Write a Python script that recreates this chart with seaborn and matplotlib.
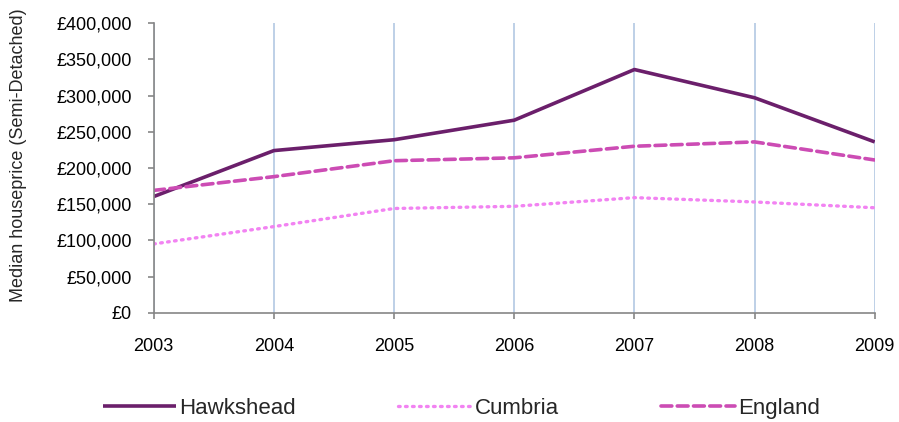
import numpy as np
import pandas as pd
import matplotlib
matplotlib.use("Agg")
import matplotlib.pyplot as plt
from matplotlib.ticker import FuncFormatter
import seaborn as sns

# data
years = [2003, 2004, 2005, 2006, 2007, 2008, 2009]
hawkshead = [160500, 224000, 239000, 266000, 336000, 297000, 236000]
cumbria = [95000, 119000, 144000, 147000, 159000, 153000, 145000]
england = [169000, 188000, 210000, 214000, 230000, 236000, 211000]

series_names = ["Hawkshead", "Cumbria", "England"]
colors = {"Hawkshead": "#6B1F6B", "Cumbria": "#F283F2", "England": "#CC4CB4"}
styles = {"Hawkshead": "-", "Cumbria": (0, (0.5, 1.6)), "England": (0, (3.0, 1.5))}
widths = {"Hawkshead": 2.6, "Cumbria": 2.4, "England": 2.6}

df = pd.DataFrame({"year": years * 3,
                   "price": hawkshead + cumbria + england,
                   "area": sum([[n] * len(years) for n in series_names], [])})

sns.set_theme(style="white")
plt.rcParams['font.family'] = ['Liberation Sans', 'DejaVu Sans']

fig = plt.figure(figsize=(8.99, 4.22), dpi=100)
ax = fig.add_axes([0.171, 0.259, 0.802, 0.686])

for n in series_names:
    sub = df[df["area"] == n]
    sns.lineplot(data=sub, x="year", y="price", ax=ax, color=colors[n],
                 linestyle=styles[n], linewidth=widths[n], label=n,
                 solid_capstyle="butt", dash_capstyle="round")

ax.set_xlim(2003, 2009)
ax.set_ylim(0, 400000)
ax.set_xticks(years)
ax.set_yticks(np.arange(0, 400001, 50000))
ax.yaxis.set_major_formatter(FuncFormatter(lambda v, p: "£{:,.0f}".format(v)))
ax.xaxis.grid(True, color="#B9CDE5", linewidth=1.3)
ax.yaxis.grid(False)
ax.set_axisbelow(True)

for s in ["top", "right"]:
    ax.spines[s].set_visible(False)
for s in ["left", "bottom"]:
    ax.spines[s].set_color("#868686")
    ax.spines[s].set_linewidth(1.2)
ax.tick_params(axis="both", direction="out", length=4, width=1.2, color="#868686",
               labelsize=13, labelcolor="black", left=True, bottom=True)
ax.tick_params(axis="x", pad=14)
ax.tick_params(axis="y", pad=12)
ax.set_xlabel("")
ax.set_ylabel("Median houseprice (Semi-Detached)", fontsize=13)
ax.yaxis.set_label_coords(-0.176, 0.545)

h, l = ax.get_legend_handles_labels()
ax.get_legend().remove()
fig.legend(h, l, loc="center", bbox_to_anchor=(0.513, 0.033), ncol=3, frameon=False,
           fontsize=16, handlelength=3.3, handletextpad=0.15, columnspacing=4.6)

fig.savefig("out.png", dpi=100)
